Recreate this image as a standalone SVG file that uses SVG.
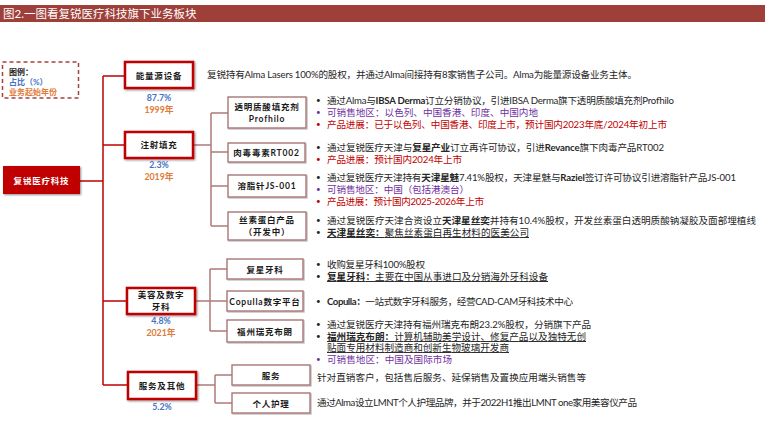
<svg xmlns="http://www.w3.org/2000/svg" width="769" height="437" viewBox="0 0 769 437">
<defs>
<style>
text{font-family:Lato,"Noto Sans CJK SC",sans-serif;}
.t{font-size:9.6px;fill:#262626;}
.b{font-weight:bold;}
.pu{fill:#7030a0;}
.rd{fill:#c00000;}
.u{text-decoration:underline;}
.dot{font-size:8px;}
.l1{fill:#fff;stroke:#c00000;stroke-width:2.5;filter:url(#sh);}
.l2{fill:#fff;stroke:#a87575;stroke-width:1.4;filter:url(#sh2);}
.lab{font-size:8.5px;font-weight:bold;fill:#1a1a1a;text-anchor:middle;letter-spacing:0.8px;}
.pct{font-size:8.8px;font-weight:bold;fill:#4472c4;text-anchor:middle;}
.yr{font-size:8.8px;font-weight:bold;fill:#e07b39;text-anchor:middle;}
.c1{fill:none;stroke:#c00000;stroke-width:1.5;}
.c2{fill:none;stroke:#b07a7a;stroke-width:1.5;}
</style>
<filter id="sh" x="-10%" y="-20%" width="130%" height="150%"><feDropShadow dx="1" dy="1" stdDeviation="0.8" flood-color="#000" flood-opacity="0.45"/></filter>
<filter id="sh2" x="-10%" y="-20%" width="130%" height="150%"><feDropShadow dx="1" dy="1" stdDeviation="0.6" flood-color="#000" flood-opacity="0.25"/></filter>
</defs>
<rect width="769" height="437" fill="#fff"/>

<g id="title">
<rect x="0" y="5" width="765" height="17" fill="#9e3f3a"/>
<text x="3" y="18" font-size="11.5" fill="#fff">图2.一图看复锐医疗科技旗下业务板块</text>
</g>

<g id="legend">
<rect x="2.5" y="62" width="76" height="36" fill="#fff" stroke="#a8403e" stroke-width="1.5" stroke-dasharray="4,3"/>
<text x="9" y="75" font-size="8" font-weight="bold" fill="#1a1a1a">图例：</text>
<text x="9" y="85" font-size="8" font-weight="bold" fill="#4472c4">占比（%）</text>
<text x="9" y="95" font-size="8" font-weight="bold" fill="#e07b39">业务起始年份</text>
</g>

<g id="connectors">
<path class="c1" d="M80,181 H103 M103,76 V385 M103,76 H125 M103,145 H125 M103,301 H127 M103,385 H128"/>
<path class="c2" d="M193,145 H211 M211,113 V226 M211,113 H228 M211,152 H228 M211,186 H228 M211,226 H228"/>
<path class="c2" d="M195,301 H210 M210,269 V331 M210,269 H227 M210,301 H227 M210,331 H227"/>
<path class="c2" d="M196,385 H215 M215,375 V403 M215,375 H232 M215,403 H232"/>
</g>

<g id="root">
<rect x="3" y="166" width="77" height="28" fill="#c00000" filter="url(#sh)"/>
<text x="41.5" y="184" font-size="8.5" font-weight="bold" fill="#fff" text-anchor="middle" letter-spacing="0.8">复锐医疗科技</text>
</g>

<g id="energy">
<rect class="l1" x="125" y="62" width="68" height="26"/>
<text class="lab" x="159" y="79">能量源设备</text>
<text class="pct" x="159" y="101">87.7%</text>
<text class="yr" x="159" y="113">1999年</text>
<text class="t" x="207" y="78" textLength="430" lengthAdjust="spacing">复锐持有Alma Lasers 100%的股权，并通过Alma间接持有8家销售子公司。Alma为能量源设备业务主体。</text>
</g>

<g id="inject">
<rect class="l1" x="125" y="132" width="68" height="26"/>
<text class="lab" x="159" y="148">注射填充</text>
<text class="pct" x="159" y="168">2.3%</text>
<text class="yr" x="159" y="180">2019年</text>
</g>

<g id="profhilo">
<rect class="l2" x="228" y="97" width="78" height="31"/>
<text class="lab" x="267" y="110" letter-spacing="0.5">透明质酸填充剂</text>
<text class="lab" x="267" y="122" letter-spacing="0">Profhilo</text>
<text class="t dot" x="316" y="103">•</text>
<text class="t" x="327" y="104" textLength="347" lengthAdjust="spacing">通过Alma与<tspan class="b">IBSA Derma</tspan>订立分销协议，引进IBSA Derma旗下透明质酸填充剂Profhilo</text>
<text class="t dot pu" x="316" y="115">•</text>
<text class="t pu" x="327" y="116" textLength="211" lengthAdjust="spacing">可销售地区：以色列、中国香港、印度、中国内地</text>
<text class="t dot rd" x="316" y="127">•</text>
<text class="t rd" x="327" y="128" textLength="340" lengthAdjust="spacing">产品进展：已于以色列、中国香港、印度上市，预计国内2023年底/2024年初上市</text>
</g>

<g id="rt002">
<rect class="l2" x="228" y="143" width="77" height="19"/>
<text class="lab" x="266.5" y="156" letter-spacing="0.5">肉毒毒素RT002</text>
<text class="t dot" x="316" y="150">•</text>
<text class="t" x="327" y="151" textLength="337" lengthAdjust="spacing">通过复锐医疗天津与<tspan class="b">复星产业</tspan>订立再许可协议，引进<tspan class="b">Revance</tspan>旗下肉毒产品RT002</text>
<text class="t dot rd" x="316" y="162">•</text>
<text class="t rd" x="327" y="163" textLength="135" lengthAdjust="spacing">产品进展：预计国内2024年上市</text>
</g>

<g id="js001">
<rect class="l2" x="228" y="175" width="78" height="22"/>
<text class="lab" x="267" y="189" letter-spacing="0.5">溶脂针JS-001</text>
<text class="t dot" x="316" y="180">•</text>
<text class="t" x="327" y="181" textLength="409" lengthAdjust="spacing">通过复锐医疗天津持有<tspan class="b">天津星魅</tspan>7.41%股权，天津星魅与<tspan class="b">Raziel</tspan>签订许可协议引进溶脂针产品JS-001</text>
<text class="t dot pu" x="316" y="192">•</text>
<text class="t pu" x="327" y="193" textLength="142" lengthAdjust="spacing">可销售地区：中国（包括港澳台）</text>
<text class="t dot rd" x="316" y="204">•</text>
<text class="t rd" x="327" y="205" textLength="157" lengthAdjust="spacing">产品进展：预计国内2025-2026年上市</text>
</g>

<g id="silk">
<rect class="l2" x="228" y="212" width="78" height="28"/>
<text class="lab" x="267" y="223" letter-spacing="0.5">丝素蛋白产品</text>
<text class="lab" x="267" y="235" letter-spacing="0.5">（开发中）</text>
<text class="t dot" x="316" y="223">•</text>
<text class="t" x="327" y="224" textLength="429" lengthAdjust="spacing">通过复锐医疗天津合资设立<tspan class="b">天津星丝奕</tspan>并持有10.4%股权，开发丝素蛋白透明质酸钠凝胶及面部埋植线</text>
<text class="t dot" x="316" y="235">•</text>
<text class="t u" x="327" y="236" textLength="202" lengthAdjust="spacing"><tspan class="b">天津星丝奕：</tspan>聚焦丝素蛋白再生材料的医美公司</text>
</g>

<g id="beauty">
<rect class="l1" x="127" y="288" width="68" height="26"/>
<text class="lab" x="161" y="298">美容及数字</text>
<text class="lab" x="161" y="310">牙科</text>
<text class="pct" x="161" y="324">4.8%</text>
<text class="yr" x="161" y="336">2021年</text>
</g>

<g id="fosun-dental">
<rect class="l2" x="227" y="259" width="76" height="20"/>
<text class="lab" x="265" y="272.5">复星牙科</text>
<text class="t dot" x="316" y="267">•</text>
<text class="t" x="327" y="268" textLength="98" lengthAdjust="spacing">收购复星牙科100%股权</text>
<text class="t dot" x="316" y="279">•</text>
<text class="t u" x="327" y="280" textLength="221" lengthAdjust="spacing"><tspan class="b">复星牙科：</tspan>主要在中国从事进口及分销海外牙科设备</text>
</g>

<g id="copulla">
<rect class="l2" x="227" y="291" width="76" height="20"/>
<text class="lab" x="265" y="304.5" letter-spacing="0.3">Copulla数字平台</text>
<text class="t dot" x="316" y="304">•</text>
<text class="t" x="327" y="305" textLength="246" lengthAdjust="spacing"><tspan class="b">Copulla：</tspan>一站式数字牙科服务，经营CAD-CAM牙科技术中心</text>
</g>

<g id="fuzhou">
<rect class="l2" x="227" y="320" width="76" height="22"/>
<text class="lab" x="265" y="334.5">福州瑞克布朗</text>
<text class="t dot" x="316" y="327">•</text>
<text class="t" x="327" y="328" textLength="264" lengthAdjust="spacing">通过复锐医疗天津持有福州瑞克布朗23.2%股权，分销旗下产品</text>
<text class="t dot" x="316" y="339">•</text>
<text class="t u" x="327" y="340" textLength="259" lengthAdjust="spacing"><tspan class="b">福州瑞克布朗：</tspan>计算机辅助美学设计、修复产品以及独特无创</text>
<text class="t u" x="327" y="351" textLength="182" lengthAdjust="spacing">贴面专用材料制造商和创新生物玻璃开发商</text>
<text class="t dot pu" x="316" y="362">•</text>
<text class="t pu" x="327" y="363" textLength="125" lengthAdjust="spacing">可销售地区：中国及国际市场</text>
</g>

<g id="service-other">
<rect class="l1" x="128" y="372" width="68" height="27"/>
<text class="lab" x="162" y="389">服务及其他</text>
<text class="pct" x="162" y="410">5.2%</text>
</g>

<g id="service">
<rect class="l2" x="232" y="365" width="78" height="20"/>
<text class="lab" x="271" y="378.5">服务</text>
<text class="t" x="317" y="381" textLength="269" lengthAdjust="spacing">针对直销客户，包括售后服务、延保销售及置换应用端头销售等</text>
</g>

<g id="personal-care">
<rect class="l2" x="232" y="393" width="78" height="20"/>
<text class="lab" x="271" y="406.5">个人护理</text>
<text class="t" x="317" y="406" textLength="320" lengthAdjust="spacing">通过Alma设立LMNT个人护理品牌，并于2022H1推出LMNT one家用美容仪产品</text>
</g>
</svg>
